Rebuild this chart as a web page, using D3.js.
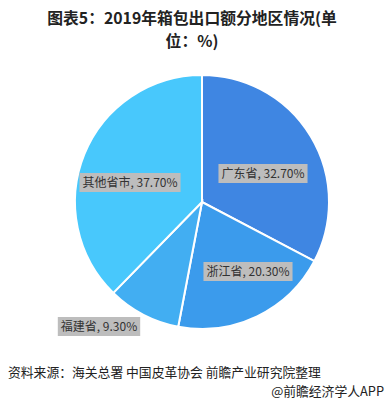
<!DOCTYPE html>
<html>
<head>
<meta charset="utf-8">
<script src="https://cdn.jsdelivr.net/npm/d3@7"></script>
<style>
  body { margin: 0; background: #fff; }
  text { font-family: "Noto Sans CJK SC", "Noto Sans", sans-serif; }
</style>
</head>
<body>
<div id="chart"></div>
<script>
var width = 385,
    height = 404;

var regions = ['广东省', '浙江省', '福建省', '其他省市'];
var shares = [32.7, 20.3, 9.3, 37.7];
var colors = ['#3f86e2', '#3b9bec', '#42aef2', '#48c8fc'];
// label box centres
var labelPos = [[263, 174], [248, 272], [99, 327], [130, 183]];

var cx = 202, cy = 202, r = 127;

var svg = d3.select('#chart').append('svg')
    .attr('width', width).attr('height', height);

// title, two separate lines
svg.selectAll('.title')
  .data(['图表5：2019年箱包出口额分地区情况(单', '位：%)'])
  .enter().append('text')
    .attr('class', 'title')
    .attr('x', 192)
    .attr('y', function(d, i) { return 24 + i * 23; })
    .attr('text-anchor', 'middle')
    .attr('font-size', 15.8)
    .attr('font-weight', 'bold')
    .attr('fill', '#222')
    .text(function(d) { return d; });

var pie = d3.pie().sort(null).value(function(d) { return d; });
var arc = d3.arc().innerRadius(0).outerRadius(r);

var g = svg.append('g').attr('transform', 'translate(' + cx + ',' + cy + ')');

g.selectAll('path')
  .data(pie(shares))
  .enter().append('path')
    .attr('d', arc)
    .attr('fill', function(d, i) { return colors[i]; })
    .attr('stroke', '#fff')
    .attr('stroke-width', 2);

// labels with grey boxes
var labels = svg.selectAll('.lbl')
  .data(shares)
  .enter().append('g')
    .attr('class', 'lbl')
    .attr('transform', function(d, i) { return 'translate(' + labelPos[i][0] + ',' + labelPos[i][1] + ')'; });

labels.append('rect');
labels.append('text')
    .attr('text-anchor', 'middle')
    .attr('dy', '0.35em')
    .attr('font-size', 12)
    .attr('fill', '#333')
    .text(function(d, i) { return regions[i] + ', ' + d3.format('.2f')(d) + '%'; });

labels.each(function() {
  var bbox = d3.select(this).select('text').node().getBBox();
  d3.select(this).select('rect')
    .attr('x', bbox.x - 3).attr('y', -10)
    .attr('width', bbox.width + 6).attr('height', 19)
    .attr('fill', '#bdbdbd');
});

// footer
svg.append('text')
    .attr('x', 8).attr('y', 377)
    .attr('font-size', 12.8)
    .attr('fill', '#222')
    .text('资料来源：海关总署 中国皮革协会 前瞻产业研究院整理');

svg.append('text')
    .attr('x', 384).attr('y', 396)
    .attr('text-anchor', 'end')
    .attr('font-size', 12.8)
    .attr('fill', '#222')
    .text('@前瞻经济学人APP');
</script>
</body>
</html>
